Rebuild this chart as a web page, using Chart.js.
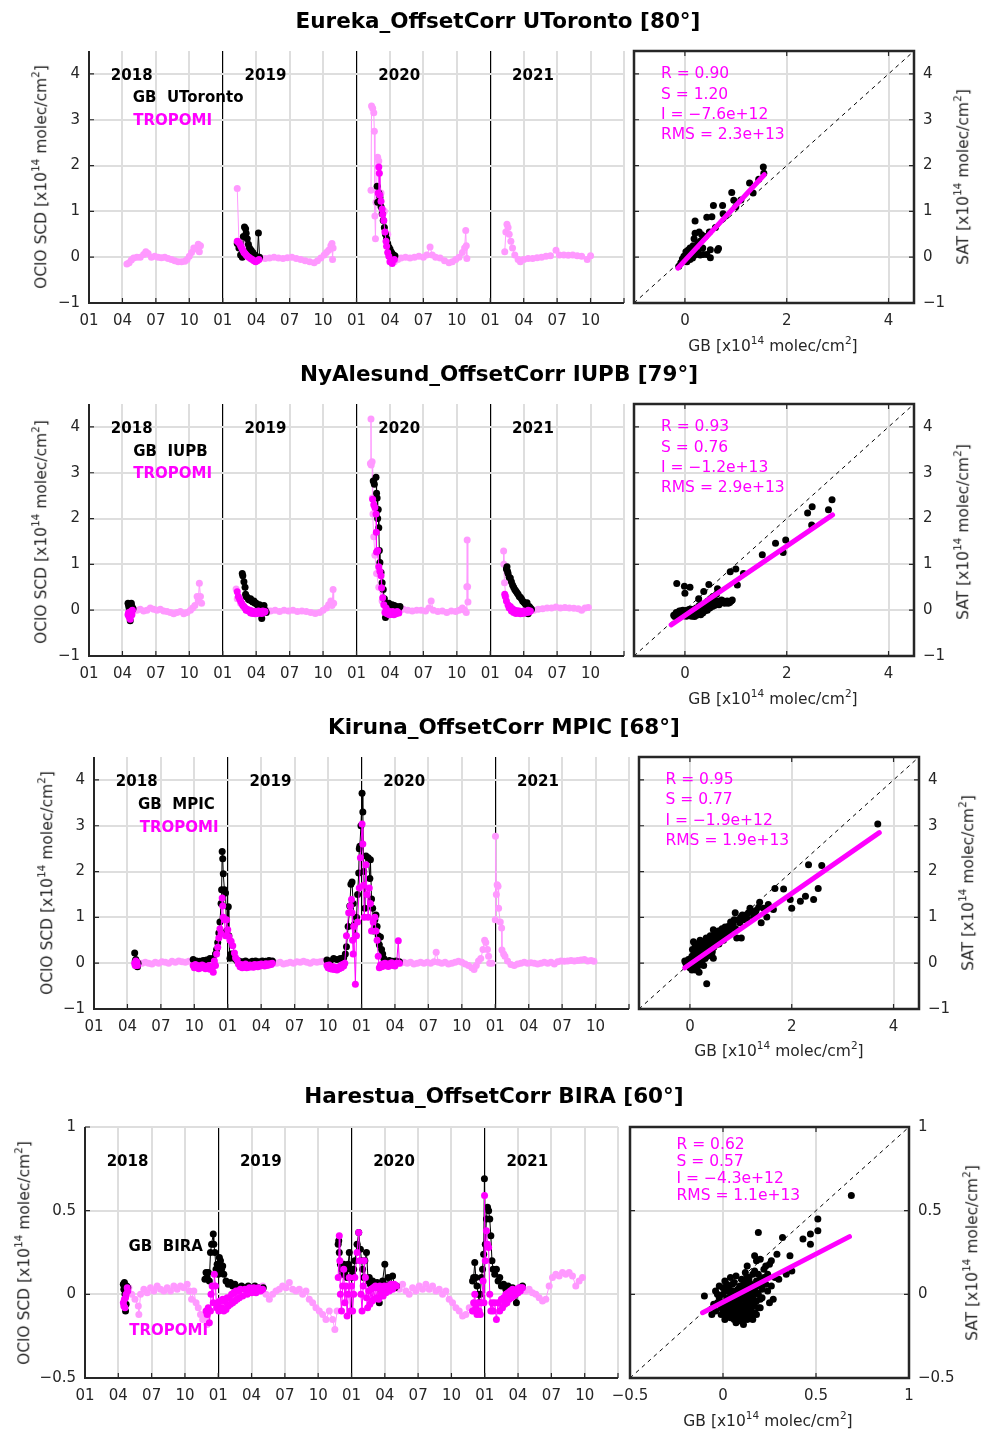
<!DOCTYPE html>
<html>
<head>
<meta charset="utf-8">
<script src="https://cdn.jsdelivr.net/npm/chart.js@4.4.1/dist/chart.umd.min.js"></script>
<style>
  body { margin: 0; background: #fff; }
  #fig { position: relative; width: 983px; height: 1432px; font-family: "DejaVu Sans", sans-serif; color: #262626; overflow: hidden; }
  #fig canvas { position: absolute; }
  .txt { position: absolute; white-space: nowrap; line-height: 1; }
  .title { font-size: 21.5px; font-weight: bold; color: #000; transform: translateX(-50%); }
  .axlab { font-size: 15.5px; }
  .rot { transform: translate(-50%, -50%) rotate(-90deg); }
  .hor { transform: translateX(-50%); }
  .axlab sup { font-size: 10.5px; vertical-align: 0; position: relative; top: -7px; }
</style>
</head>
<body>
<div id="fig"></div>
<script>
// x of the time series = months since 01/2018, y = OClO SCD in 1e14 molec/cm2
// null splits a series where the instrument has no data (polar night, end of campaign)

const monthLabels = ['01', '04', '07', '10'];
const yearLabels = ['2018', '2019', '2020', '2021'];

// ---------- Eureka ----------
const eurekaTropomiAll = [
  [3.4,-0.15],[3.6,-0.12],[3.8,-0.06],[4.0,-0.02],[4.3,0.0],[4.6,0.0],[4.9,0.06],[5.1,0.12],[5.3,0.08],[5.6,0.0],
  [5.9,0.02],[6.2,0.0],[6.5,-0.01],[6.8,0.0],[7.1,-0.03],[7.4,-0.05],[7.7,-0.08],[8.0,-0.1],[8.3,-0.1],[8.6,-0.09],
  [8.8,-0.05],[9.0,0.02],[9.2,0.1],[9.4,0.2],[9.6,0.18],[9.8,0.28],[9.9,0.12],[10.0,0.25],
  null,
  [13.3,1.5],[13.45,0.35],[13.7,0.3],[14.0,0.15],[14.4,0.05],[14.8,-0.05],[15.1,-0.05],[15.4,-0.02],[15.8,-0.03],
  [16.2,-0.02],[16.6,0.0],[17.0,-0.02],[17.4,-0.03],[17.8,-0.01],[18.2,0.0],[18.6,-0.03],[19.0,-0.05],[19.4,-0.08],
  [19.8,-0.1],[20.2,-0.12],[20.5,-0.08],[20.8,-0.02],[21.1,0.05],[21.3,0.1],[21.5,0.15],[21.7,0.25],[21.8,0.3],
  [21.85,-0.05],[21.9,0.2],
  null,
  [25.3,1.46],[25.35,3.3],[25.45,3.25],[25.55,3.15],[25.6,2.75],[25.65,0.9],[25.7,0.4],[25.75,1.2],[25.9,2.18],
  [26.0,2.1],[26.2,1.4],[26.5,1.0],[26.8,0.5],[27.1,0.1],[27.4,-0.1],[27.7,-0.05],[28.0,-0.02],[28.4,0.0],[28.8,-0.02],
  [29.2,0.0],[29.6,0.02],[30.0,0.0],[30.3,0.05],[30.6,0.22],[30.8,0.05],[31.1,0.0],[31.5,-0.02],[31.9,-0.08],
  [32.3,-0.12],[32.6,-0.1],[32.9,-0.05],[33.2,0.0],[33.5,0.1],[33.7,0.2],[33.8,0.58],[33.85,0.25],[33.9,-0.03],
  null,
  [37.3,0.12],[37.4,0.55],[37.5,0.72],[37.6,0.65],[37.7,0.5],[37.85,0.35],[38.0,0.2],[38.2,0.05],[38.5,-0.05],
  [38.7,-0.1],[39.0,-0.05],[39.4,-0.03],[39.8,-0.03],[40.2,-0.01],[40.6,0.0],[41.0,0.02],[41.4,0.03],[41.9,0.15],
  [42.2,0.05],[42.6,0.05],[43.0,0.04],[43.4,0.05],[43.8,0.03],[44.2,0.02],[44.7,-0.05],[45.0,0.03]
];
const eurekaGb = [
  [13.3,0.3],[13.45,0.2],[13.6,0.05],[13.75,0.0],[13.85,0.45],[13.95,0.66],[14.05,0.62],[14.1,0.52],[14.2,0.4],
  [14.3,0.28],[14.4,0.2],[14.55,0.15],[14.7,0.1],[14.85,0.05],[15.0,0.02],[15.1,0.0],[15.2,0.53],[15.3,0.0],
  null,
  [25.85,1.55],[25.9,1.2],[26.0,1.4],[26.1,1.3],[26.2,1.1],[26.3,0.95],[26.4,0.8],[26.5,0.65],[26.6,0.5],[26.7,0.4],
  [26.8,0.3],[26.9,0.22],[27.0,0.18],[27.1,0.12],[27.2,0.08],[27.3,0.05],[27.45,0.03]
];
const eurekaTropomiColoc = [
  [13.3,0.35],[13.4,0.33],[13.5,0.3],[13.6,0.25],[13.7,0.2],[13.8,0.15],[13.9,0.1],[14.0,0.08],[14.1,0.05],
  [14.2,0.02],[14.35,0.0],[14.5,-0.03],[14.65,-0.05],[14.8,-0.08],[14.95,-0.1],[15.1,-0.08],[15.25,-0.05],
  null,
  [25.95,1.4],[26.0,1.97],[26.05,1.83],[26.1,1.35],[26.2,1.22],[26.3,1.05],[26.35,0.93],[26.45,0.8],[26.55,0.55],
  [26.65,0.35],[26.7,0.24],[26.8,0.1],[26.9,0.02],[27.0,-0.1],[27.2,-0.14],[27.4,-0.05]
];
const eurekaScatter = [
  [-0.12,-0.2],[-0.08,-0.12],[-0.05,-0.04],[-0.02,0.02],[0.0,-0.08],[0.02,0.12],[0.04,-0.1],[0.05,0.05],[0.06,0.15],
  [0.08,0.0],[0.1,0.2],[0.1,-0.05],[0.12,0.08],[0.14,0.12],[0.15,-0.02],[0.16,0.25],[0.18,0.4],[0.2,0.05],[0.2,0.52],
  [0.22,0.15],[0.25,0.3],[0.26,0.1],[0.28,0.55],[0.3,0.35],[0.3,0.05],[0.33,0.49],[0.35,0.2],[0.36,0.06],[0.4,0.45],
  [0.43,0.06],[0.43,0.87],[0.48,0.55],[0.5,0.16],[0.5,-0.01],[0.53,0.88],[0.56,1.13],[0.6,0.65],[0.64,0.15],
  [0.66,0.19],[0.2,0.79],[0.74,1.13],[0.75,0.95],[0.8,0.9],[0.92,1.41],[0.96,1.24],[1.0,1.1],[1.1,1.25],[1.27,1.62],
  [1.34,1.4],[1.45,1.7],[1.54,1.97],[1.55,1.83]
];
const eurekaFit = [[-0.14,-0.24],[1.56,1.8]];
const eurekaStats = ['R = 0.90', 'S = 1.20', 'I = \u22127.6e+12', 'RMS = 2.3e+13'];

// ---------- Ny-Alesund ----------
const nyTropomiAll = [
  [4.0,0.0],[4.3,0.0],[4.6,0.02],[4.9,-0.02],[5.2,0.0],[5.5,0.05],[5.8,0.02],[6.1,0.0],[6.4,0.02],[6.7,-0.02],
  [7.0,-0.03],[7.3,-0.05],[7.6,-0.08],[7.9,-0.05],[8.2,-0.03],[8.5,-0.08],[8.8,-0.05],[9.1,0.0],[9.3,0.05],[9.5,0.1],
  [9.7,0.3],[9.8,0.2],[9.9,0.59],[10.0,0.3],[10.1,0.15],
  null,
  [13.2,0.46],[13.3,0.25],[13.6,0.15],[14.0,0.05],[14.5,0.0],[15.0,-0.02],[15.5,-0.02],[15.9,0.0],[16.3,-0.02],
  [16.7,0.0],[17.1,-0.03],[17.5,0.0],[17.9,-0.02],[18.3,0.0],[18.7,-0.03],[19.1,-0.02],[19.5,-0.03],[19.9,-0.05],
  [20.3,-0.07],[20.7,-0.05],[21.0,0.0],[21.3,0.05],[21.5,0.12],[21.7,0.2],[21.8,0.1],[21.9,0.45],[21.95,0.15],
  null,
  [25.25,3.2],[25.3,4.17],[25.32,3.17],[25.4,3.24],[25.42,2.45],[25.48,2.1],[25.55,1.6],[25.65,1.2],[25.8,0.8],
  [26.0,0.5],[26.3,0.2],[26.6,0.0],[27.0,-0.05],[27.4,-0.02],[27.8,0.0],[28.2,0.02],[28.6,0.0],[29.0,-0.02],
  [29.4,0.0],[29.8,0.0],[30.2,-0.02],[30.5,0.05],[30.7,0.2],[30.9,0.0],[31.3,-0.03],[31.7,-0.02],[32.1,-0.05],
  [32.5,-0.02],[32.9,-0.03],[33.2,0.0],[33.5,0.05],[33.7,0.0],[33.85,-0.05],[33.9,0.51],[33.93,1.53],[33.97,0.51],
  [34.0,0.18],
  null,
  [37.2,1.29],[37.22,1.0],[37.28,0.6],[37.4,0.3],[37.6,0.1],[38.0,0.0],[38.5,-0.03],[39.0,-0.05],[39.5,-0.03],
  [39.9,0.0],[40.3,0.02],[40.7,0.03],[41.1,0.05],[41.5,0.05],[41.9,0.07],[42.3,0.05],[42.7,0.06],[43.1,0.05],
  [43.5,0.04],[43.9,0.03],[44.2,0.0],[44.5,0.05],[44.8,0.06]
];
const nyGb = [
  [3.5,0.15],[3.55,0.1],[3.6,0.05],[3.65,-0.1],[3.7,-0.23],[3.75,0.1],[3.8,0.15],[3.85,0.08],[3.9,0.05],[3.95,0.03],
  null,
  [13.75,0.8],[13.8,0.75],[13.9,0.62],[14.0,0.5],[14.05,0.35],[14.1,0.3],[14.2,0.28],[14.3,0.24],[14.4,0.22],
  [14.5,0.25],[14.6,0.2],[14.7,0.18],[14.8,0.2],[14.9,0.15],[15.0,0.15],[15.1,0.12],[15.2,0.1],[15.3,0.12],
  [15.4,0.05],[15.5,-0.18],[15.6,0.05],[15.7,0.1],[15.8,0.0],[15.9,-0.05],
  null,
  [25.5,2.82],[25.6,2.75],[25.75,2.9],[25.8,2.55],[25.85,2.45],[25.9,2.0],[25.95,2.2],[26.0,1.8],[26.05,1.3],
  [26.1,1.04],[26.2,0.82],[26.3,0.6],[26.4,0.45],[26.5,0.25],[26.6,-0.16],[26.7,0.15],[26.8,0.1],[26.9,0.15],
  [27.0,0.08],[27.2,0.12],[27.4,0.1],[27.6,0.08],[27.8,0.05],[27.9,0.08],
  null,
  [37.45,0.9],[37.5,0.95],[37.55,0.85],[37.6,0.8],[37.7,0.72],[37.8,0.7],[37.9,0.62],[38.0,0.55],[38.1,0.5],
  [38.2,0.45],[38.3,0.42],[38.4,0.38],[38.5,0.35],[38.6,0.3],[38.7,0.28],[38.8,0.25],[38.9,0.2],[39.0,0.18],
  [39.1,0.15],[39.2,0.12],[39.3,0.16],[39.4,-0.08],[39.5,0.08],[39.6,0.05],[39.7,0.02]
];
const nyTropomiColoc = [
  [3.5,-0.1],[3.55,-0.05],[3.6,-0.15],[3.65,-0.12],[3.7,-0.2],[3.75,-0.05],[3.8,-0.02],[3.85,-0.1],[3.9,0.0],
  null,
  [13.3,0.4],[13.4,0.3],[13.5,0.25],[13.6,0.2],[13.7,0.15],[13.8,0.1],[13.9,0.08],[14.0,0.05],[14.1,0.0],
  [14.2,0.02],[14.3,-0.02],[14.4,0.0],[14.5,-0.06],[14.6,-0.02],[14.7,-0.07],[14.8,-0.03],[14.9,-0.08],[15.0,-0.04],
  [15.1,-0.07],[15.2,-0.02],[15.3,-0.06],[15.4,-0.03],[15.5,-0.07],[15.6,-0.02],[15.7,-0.05],[15.8,-0.03],
  null,
  [25.45,2.42],[25.55,2.3],[25.65,2.24],[25.75,2.1],[25.78,1.7],[25.8,1.27],[25.9,1.3],[26.0,0.95],[26.1,0.85],
  [26.2,0.75],[26.25,0.49],[26.35,0.27],[26.45,0.12],[26.55,-0.05],[26.65,0.05],[26.75,-0.08],[26.85,-0.02],
  [26.95,-0.1],[27.05,-0.04],[27.15,-0.09],[27.25,-0.03],[27.35,-0.1],[27.45,-0.05],[27.55,-0.08],[27.65,-0.03],
  [27.8,-0.06],
  null,
  [37.3,0.35],[37.35,0.3],[37.45,0.2],[37.6,0.12],[37.7,0.05],[37.8,0.08],[37.9,-0.02],[38.0,0.03],[38.1,-0.05],
  [38.2,0.0],[38.3,-0.07],[38.4,-0.01],[38.5,-0.06],[38.6,-0.02],[38.7,-0.08],[38.8,-0.03],[38.9,-0.07],[39.0,-0.02],
  [39.1,-0.06],[39.2,-0.03],[39.3,-0.05],[39.4,0.0],[39.5,-0.04],[39.6,-0.02]
];
const nyScatter = [
  [-0.22,-0.11],[-0.18,-0.08],[-0.15,-0.1],[-0.12,-0.05],[-0.1,-0.08],[-0.08,-0.02],[-0.05,-0.06],[-0.03,-0.03],
  [0.0,-0.05],[0.02,-0.1],[0.04,0.0],[0.06,-0.08],[0.08,-0.04],[0.1,-0.1],[0.12,0.02],[0.14,-0.06],[0.16,-0.12],
  [0.18,0.0],[0.2,-0.05],[0.22,0.05],[0.24,-0.08],[0.26,0.02],[0.28,0.1],[0.3,-0.04],[0.32,0.06],[0.34,0.12],
  [0.36,0.0],[0.38,0.08],[0.4,0.15],[0.42,0.05],[0.45,0.2],[0.48,0.1],[0.5,0.25],[0.52,0.12],[0.55,0.3],[0.56,0.13],
  [0.6,0.15],[0.62,0.35],[0.65,0.13],[0.7,0.18],[0.75,0.2],[0.8,0.18],[0.85,0.15],[0.91,0.2],[-0.16,0.58],
  [-0.01,0.52],[0.1,0.5],[0.0,0.37],[0.27,0.25],[0.37,0.41],[0.47,0.56],[0.64,0.47],[0.89,0.84],[1.0,0.9],
  [1.03,0.55],[1.15,0.8],[1.52,1.21],[1.78,1.46],[1.93,1.26],[1.98,1.53],[2.41,2.12],[2.5,2.26],[2.49,1.86],
  [2.82,2.19],[2.89,2.41],
  [-0.2,-0.14],[-0.17,-0.05],[-0.13,-0.12],[-0.11,-0.02],[-0.07,-0.1],[-0.04,0.0],[-0.02,-0.12],[0.01,-0.02],
  [0.03,-0.13],[0.05,-0.05],[0.07,-0.11],[0.09,0.02],[0.11,-0.07],[0.13,-0.13],[0.15,-0.02],[0.17,-0.09],
  [0.19,-0.14],[0.21,-0.03],[0.23,-0.11],[0.25,0.0],[0.27,-0.07],[0.29,0.04],[0.31,-0.1],[0.33,0.02],[0.35,-0.06],
  [0.37,0.1],[0.39,-0.02],[0.41,0.08],[0.44,0.0],[0.46,0.12],[0.49,0.05],[0.51,0.18],[0.54,0.08],[0.58,0.1],
  [0.63,0.2],[0.67,0.12],[0.72,0.22],[0.78,0.15],[0.83,0.2],[0.88,0.17],[0.93,0.22]
];
const nyFit = [[-0.27,-0.32],[2.9,2.08]];
const nyStats = ['R = 0.93', 'S = 0.76', 'I = \u22121.2e+13', 'RMS = 2.9e+13'];

// ---------- Kiruna ----------
const kirunaTropomiAll = [
  [4.0,-0.02],[4.3,0.0],[4.6,0.02],[4.9,0.0],[5.2,-0.02],[5.5,0.02],[5.8,0.0],[6.1,0.03],[6.4,0.02],[6.7,0.0],
  [7.0,0.04],[7.3,0.02],[7.6,0.05],[7.9,0.03],[8.2,0.02],[8.5,0.04],[8.8,0.05],
  null,
  [16.1,0.02],[16.4,0.0],[16.7,0.02],[17.0,-0.02],[17.3,0.0],[17.6,0.02],[17.9,0.0],[18.2,0.03],[18.5,0.02],
  [18.8,0.04],[19.1,0.02],[19.4,0.0],[19.7,0.03],[20.0,0.02],[20.3,0.03],[20.6,0.04],[20.8,0.05],
  null,
  [27.5,0.0],[27.8,0.02],[28.1,0.0],[28.4,0.02],[28.7,-0.02],[29.0,0.0],[29.3,0.02],[29.6,0.0],[29.9,0.02],
  [30.2,0.0],[30.5,0.03],[30.7,0.24],[30.9,0.02],[31.2,0.0],[31.5,0.02],[31.8,-0.02],[32.1,0.0],[32.4,0.02],
  [32.7,0.04],[33.0,0.02],[33.3,-0.02],[33.6,-0.05],[33.9,-0.1],[34.1,-0.14],[34.3,-0.05],[34.5,0.05],[34.7,0.1],
  [34.9,0.3],[35.05,0.5],[35.15,0.45],[35.3,0.3],[35.4,0.15],[35.5,0.0],[35.7,0.0],
  null,
  [36.0,0.95],[36.02,2.77],[36.1,1.5],[36.17,1.71],[36.25,1.68],[36.3,1.2],[36.45,0.9],[36.57,0.77],[36.6,0.29],
  [36.75,0.2],[36.87,0.15],[37.1,0.05],[37.4,-0.03],[37.7,-0.05],[38.0,-0.02],[38.3,0.0],[38.6,0.02],[38.9,0.0],
  [39.2,0.01],[39.5,0.0],[39.8,-0.02],[40.1,0.0],[40.4,0.02],[40.7,0.0],[41.0,0.02],[41.3,-0.02],[41.6,0.03],
  [41.9,0.05],[42.2,0.04],[42.5,0.05],[42.8,0.06],[43.1,0.05],[43.4,0.06],[43.7,0.07],[44.0,0.08],[44.3,0.05],
  [44.6,0.06],[44.85,0.04]
];
const kirunaGb = [
  [3.65,0.22],[3.7,0.05],[3.75,0.08],[3.8,-0.05],[3.85,0.02],[3.9,-0.08],[3.95,0.0],
  null,
  [8.9,0.08],[9.2,0.05],[9.5,0.04],[9.8,0.06],[10.1,0.07],[10.4,0.1],[10.7,0.1],[10.9,0.2],[11.0,0.3],[11.1,0.45],
  [11.2,0.66],[11.3,0.9],[11.4,1.3],[11.45,1.6],[11.5,2.44],[11.55,2.28],[11.6,1.95],[11.7,1.6],[11.8,1.53],
  [11.9,0.7],[12.05,1.23],[12.1,0.6],[12.2,0.11],[12.3,0.2],[12.4,0.15],[12.6,0.1],[12.8,0.06],[13.0,0.05],
  [13.3,0.03],[13.6,0.05],[13.9,0.02],[14.2,0.04],[14.5,0.05],[14.8,0.03],[15.1,0.05],[15.4,0.04],[15.7,0.06],
  [16.0,0.05],
  null,
  [20.9,0.07],[21.2,0.05],[21.5,0.1],[21.8,0.08],[22.1,0.1],[22.4,0.12],[22.55,0.2],[22.65,0.36],[22.8,0.8],
  [22.95,1.25],[23.05,1.72],[23.15,1.77],[23.25,1.3],[23.35,0.84],[23.45,0.6],[23.55,1.0],[23.65,1.5],[23.75,1.97],
  [23.8,2.5],[23.85,2.55],[23.95,3.0],[24.05,3.71],[24.12,3.3],[24.2,2.0],[24.3,1.2],[24.4,2.34],[24.6,2.3],
  [24.75,1.85],[24.8,2.26],[24.9,1.4],[25.0,1.2],[25.1,0.7],[25.2,0.95],[25.3,1.05],[25.4,0.8],[25.5,0.6],
  [25.6,0.4],[25.7,0.57],[25.8,0.3],[25.9,0.2],[26.0,0.1],[26.2,0.05],[26.5,0.06],[26.8,0.04],[27.1,0.05],[27.4,0.03]
];
const kirunaTropomiColoc = [
  [3.65,0.0],[3.7,-0.05],[3.75,0.05],[3.8,-0.03],[3.85,0.02],[3.9,-0.05],
  null,
  [8.9,-0.05],[9.0,-0.1],[9.1,-0.03],[9.2,-0.08],[9.3,-0.05],[9.4,-0.12],[9.5,-0.06],[9.6,-0.1],[9.7,-0.04],
  [9.8,-0.09],[9.9,-0.06],[10.0,-0.12],[10.1,-0.07],[10.2,-0.1],[10.3,-0.05],[10.4,-0.13],[10.5,-0.08],[10.6,-0.12],
  [10.7,-0.2],[10.8,0.05],[10.9,-0.05],[11.0,0.2],[11.1,0.35],[11.2,0.55],[11.3,0.75],[11.4,0.65],[11.5,1.42],
  [11.55,1.25],[11.6,1.0],[11.7,0.95],[11.8,0.6],[11.9,0.95],[12.0,0.73],[12.1,0.58],[12.2,0.5],[12.3,0.48],
  [12.45,0.38],[12.6,0.22],[12.7,0.12],[12.85,0.07],[12.95,-0.02],[13.1,-0.08],[13.2,-0.03],[13.3,-0.1],[13.4,-0.05],
  [13.5,-0.08],[13.6,-0.02],[13.7,-0.1],[13.8,-0.06],[13.9,-0.09],[14.0,-0.04],[14.1,-0.08],[14.2,-0.05],
  [14.3,-0.09],[14.4,-0.03],[14.5,-0.07],[14.6,-0.04],[14.7,-0.08],[14.8,-0.03],[14.9,-0.06],[15.0,-0.02],
  [15.1,-0.05],[15.2,-0.03],[15.3,-0.06],[15.4,-0.01],[15.5,-0.05],[15.6,-0.02],[15.7,-0.04],[15.8,-0.01],
  [15.9,-0.03],[16.0,0.0],
  null,
  [20.9,-0.05],[21.0,-0.1],[21.1,-0.04],[21.2,-0.12],[21.3,-0.07],[21.4,-0.13],[21.5,-0.08],[21.6,-0.14],[21.7,-0.1],
  [21.8,-0.15],[21.9,-0.09],[22.0,-0.12],[22.1,-0.06],[22.2,-0.1],[22.3,-0.03],[22.4,-0.06],[22.5,0.0],
  [22.65,0.6],[22.85,1.1],[23.0,1.25],[23.1,1.39],[23.15,1.1],[23.2,0.5],[23.25,0.2],[23.3,0.8],[23.45,-0.46],
  [23.55,0.6],[23.65,0.9],[23.8,1.64],[23.9,2.3],[24.05,3.04],[24.12,2.6],[24.18,1.7],[24.25,1.0],[24.4,2.15],
  [24.5,1.5],[24.6,1.0],[24.7,1.64],[24.8,1.3],[24.9,0.7],[25.05,0.9],[25.2,1.0],[25.3,0.7],[25.4,0.5],[25.5,0.15],
  [25.6,-0.1],[25.7,-0.04],[25.8,-0.08],[25.9,-0.02],[26.0,-0.06],[26.1,0.0],[26.2,-0.05],[26.3,-0.02],[26.4,-0.07],
  [26.5,-0.01],[26.6,-0.04],[26.7,0.01],[26.8,-0.05],[26.9,-0.02],[27.0,-0.06],[27.15,0.0],[27.3,0.49],[27.4,0.0]
];
const kirunaScatter = [
  [-0.1,0.05],[-0.08,0.0],[-0.05,-0.05],[-0.03,0.08],[0.0,-0.1],[0.02,0.1],[0.04,-0.15],[0.05,0.3],[0.06,0.0],
  [0.07,0.47],[0.08,-0.1],[0.1,0.2],[0.1,0.4],[0.12,-0.05],[0.13,-0.07],[0.14,0.25],[0.15,0.1],[0.16,0.35],
  [0.18,-0.2],[0.2,0.5],[0.2,0.05],[0.22,0.3],[0.24,0.15],[0.25,0.4],[0.27,-0.05],[0.28,0.2],[0.3,0.45],[0.3,0.1],
  [0.33,-0.45],[0.33,0.3],[0.35,0.5],[0.36,0.2],[0.38,0.35],[0.4,0.6],[0.42,0.4],[0.44,0.25],[0.46,0.73],
  [0.46,0.11],[0.48,0.5],[0.5,0.45],[0.52,0.65],[0.55,0.55],[0.58,0.6],[0.6,0.7],[0.62,0.5],[0.65,0.65],
  [0.69,0.79],[0.7,0.6],[0.75,0.8],[0.78,0.72],[0.8,0.9],[0.85,0.85],[0.89,1.1],[0.92,0.55],[0.95,0.95],[1.0,1.0],
  [1.01,0.55],[1.05,0.95],[1.1,1.05],[1.15,1.1],[1.21,1.13],[1.25,1.0],[1.3,1.15],[1.37,1.33],[1.4,0.88],
  [1.45,1.2],[1.51,1.01],[1.54,1.28],[1.64,1.17],[1.67,1.63],[1.84,1.62],[1.97,1.39],[2.0,1.2],[2.17,1.35],
  [2.27,1.46],[2.33,2.15],[2.43,1.39],[2.52,1.63],[2.59,2.13],[3.69,3.04],
  [0.0,0.08],[0.02,-0.05],[0.04,0.15],[0.06,-0.12],[0.08,0.25],[0.09,0.05],[0.11,-0.15],[0.12,0.12],[0.14,0.42],
  [0.15,-0.08],[0.17,0.2],[0.19,0.1],[0.21,0.38],[0.23,0.02],[0.25,0.25],[0.26,0.48],[0.28,0.12],[0.31,0.3],
  [0.32,0.55],[0.34,0.15],[0.37,0.42],[0.39,0.28],[0.41,0.5],[0.43,0.18],[0.45,0.6],[0.47,0.35],[0.49,0.62],
  [0.51,0.4],[0.53,0.55],[0.56,0.7],[0.57,0.42],[0.6,0.55],[0.63,0.75],[0.66,0.5],[0.68,0.68],[0.72,0.75],
  [0.76,0.62],[0.82,0.8],[0.87,0.95],[0.9,0.75],[0.98,0.88],[1.03,1.05],[1.12,0.98],[1.18,1.2],[1.28,1.1],[1.35,1.22]
];
const kirunaFit = [[-0.1,-0.1],[3.72,2.85]];
const kirunaStats = ['R = 0.95', 'S = 0.77', 'I = \u22121.9e+12', 'RMS = 1.9e+13'];

// ---------- Harestua ----------
const harestuaTropomiAll = [
  [3.95,0.04],[4.2,0.0],[4.5,-0.03],[4.8,-0.07],[4.85,-0.12],[5.0,0.0],[5.3,0.03],[5.6,0.01],[5.9,0.04],[6.2,0.02],
  [6.5,0.05],[6.8,0.03],[7.1,0.02],[7.4,0.04],[7.7,0.02],[8.0,0.05],[8.3,0.03],[8.6,0.05],[8.9,0.04],[9.2,0.06],
  [9.4,0.02],[9.6,-0.03],[9.8,0.02],[10.0,-0.05],[10.2,-0.08],[10.4,-0.12],[10.6,-0.15],[10.8,-0.14],[11.0,-0.18],
  null,
  [16.0,0.05],[16.3,0.0],[16.6,-0.03],[16.9,0.0],[17.2,0.02],[17.5,0.03],[17.8,0.05],[18.1,0.04],[18.4,0.07],
  [18.7,0.03],[19.0,0.02],[19.3,0.03],[19.6,0.0],[19.9,0.02],[20.2,-0.03],[20.5,-0.05],[20.8,-0.08],[21.1,-0.1],
  [21.4,-0.12],[21.7,-0.15],[22.0,-0.1],[22.3,-0.15],[22.5,-0.21],[22.7,-0.1],
  null,
  [28.0,0.05],[28.3,0.03],[28.6,0.06],[28.9,0.02],[29.2,0.0],[29.5,0.04],[29.8,0.02],[30.1,0.05],[30.4,0.03],
  [30.7,0.06],[31.0,0.03],[31.3,0.05],[31.6,0.02],[31.9,0.03],[32.2,0.0],[32.5,0.02],[32.8,-0.03],[33.1,-0.05],
  [33.4,-0.08],[33.7,-0.1],[34.0,-0.13],[34.3,-0.12],[34.6,-0.08],[34.9,-0.1],
  null,
  [39.4,0.04],[39.7,0.02],[40.0,0.03],[40.3,0.01],[40.6,0.0],[40.9,-0.02],[41.2,-0.04],[41.5,-0.03],[41.8,0.05],
  [42.1,0.1],[42.4,0.12],[42.7,0.11],[43.0,0.13],[43.3,0.12],[43.6,0.13],[43.9,0.11],[44.2,0.05],[44.5,0.08],[44.8,0.1]
];
const harestuaGb = [
  [3.45,0.06],[3.5,0.03],[3.55,0.07],[3.6,0.0],[3.65,-0.1],[3.7,-0.06],[3.75,0.05],[3.8,0.02],[3.85,0.04],
  null,
  [10.8,0.09],[10.9,0.13],[11.0,0.1],[11.1,0.13],[11.2,0.08],[11.3,0.25],[11.4,0.3],[11.55,0.36],[11.6,0.3],
  [11.7,0.25],[11.8,0.15],[11.9,0.18],[12.0,0.12],[12.1,0.22],[12.2,0.2],[12.3,0.15],[12.4,0.17],[12.5,0.12],
  [12.7,0.08],[12.9,0.06],[13.1,0.07],[13.3,0.05],[13.5,0.06],[13.8,0.04],[14.1,0.05],[14.4,0.04],[14.7,0.05],
  [15.0,0.03],[15.3,0.05],[15.6,0.04],[15.9,0.03],[16.05,0.04],
  null,
  [22.8,0.3],[22.85,0.32],[22.9,0.25],[23.0,0.18],[23.1,0.15],[23.2,0.12],[23.3,0.18],[23.4,0.12],[23.5,0.15],
  [23.6,0.1],[23.7,0.18],[23.8,0.25],[23.9,0.15],[24.0,0.1],[24.1,0.12],[24.2,0.15],[24.3,0.2],[24.5,0.3],
  [24.65,0.37],[24.8,0.27],[24.9,0.2],[25.0,0.15],[25.1,0.1],[25.2,0.2],[25.35,0.25],[25.5,0.08],[25.6,0.1],
  [25.7,0.06],[25.9,0.08],[26.1,0.05],[26.3,0.07],[26.5,-0.05],[26.6,0.06],[26.8,0.08],[27.0,0.18],[27.1,0.05],
  [27.3,0.1],[27.5,0.06],[27.7,0.11],[27.9,0.04],[28.05,0.05],
  null,
  [34.9,0.08],[35.0,0.1],[35.1,0.19],[35.2,0.1],[35.3,0.05],[35.4,0.0],[35.5,-0.05],[35.6,0.0],[35.7,0.1],
  [35.8,0.15],[35.9,0.24],[35.97,0.69],[36.05,0.3],[36.15,0.45],[36.25,0.52],[36.35,0.5],[36.45,0.45],[36.55,0.35],
  [36.65,0.2],[36.75,0.15],[36.9,0.12],[37.05,0.15],[37.2,0.08],[37.35,0.1],[37.5,0.05],[37.7,0.06],[37.9,0.03],
  [38.1,0.05],[38.3,0.02],[38.5,0.04],[38.7,0.0],[38.85,-0.05],[39.0,0.03],[39.2,0.04],[39.4,0.05]
];
const harestuaTropomiColoc = [
  [3.45,-0.05],[3.5,-0.07],[3.55,-0.03],[3.6,-0.08],[3.65,-0.02],[3.7,0.0],[3.8,0.04],[3.85,0.02],
  null,
  [10.9,-0.1],[11.0,-0.12],[11.1,-0.08],[11.2,-0.17],[11.3,-0.1],[11.35,0.0],[11.45,0.05],[11.55,-0.05],
  [11.65,0.12],[11.75,0.05],[11.85,-0.08],[11.95,-0.05],[12.05,-0.1],[12.15,-0.04],[12.3,-0.08],[12.4,-0.03],
  [12.5,-0.1],[12.6,-0.04],[12.7,-0.09],[12.8,-0.02],[12.9,-0.07],[13.0,-0.02],[13.1,-0.06],[13.2,0.0],[13.3,-0.05],
  [13.4,0.01],[13.5,-0.04],[13.6,0.02],[13.7,-0.03],[13.8,0.02],[13.9,-0.02],[14.0,0.03],[14.2,-0.01],[14.4,0.03],
  [14.6,0.0],[14.8,0.04],[15.0,0.01],[15.2,0.04],[15.4,0.01],[15.6,0.04],[15.8,0.02],[16.0,0.03],
  null,
  [22.8,0.1],[22.9,0.35],[22.95,0.2],[23.0,0.0],[23.1,-0.1],[23.2,0.05],[23.3,0.15],[23.4,-0.05],[23.5,0.05],
  [23.6,-0.13],[23.7,0.0],[23.8,0.1],[23.9,-0.1],[24.0,0.05],[24.1,-0.1],[24.2,0.0],[24.3,0.1],[24.5,0.25],
  [24.65,0.37],[24.75,0.2],[24.85,0.0],[24.95,-0.1],[25.05,0.05],[25.15,0.2],[25.25,0.1],[25.35,-0.02],
  [25.45,-0.08],[25.55,0.02],[25.65,-0.06],[25.75,0.03],[25.85,-0.04],[25.95,0.04],[26.05,-0.03],[26.15,0.05],
  [26.25,-0.02],[26.35,0.04],[26.45,-0.03],[26.55,0.05],[26.65,0.0],[26.75,0.04],[26.85,-0.01],[26.95,0.05],
  [27.1,0.01],[27.25,0.05],[27.4,0.02],[27.55,0.06],[27.7,0.03],[27.85,0.06],[28.05,0.05],
  null,
  [34.9,-0.1],[35.0,-0.05],[35.1,0.0],[35.2,-0.08],[35.3,-0.12],[35.4,-0.05],[35.5,-0.1],[35.6,-0.12],[35.7,-0.05],
  [35.85,0.08],[35.93,-0.05],[35.98,0.59],[36.05,0.2],[36.15,0.38],[36.25,0.3],[36.35,0.28],[36.45,0.0],
  [36.55,-0.1],[36.65,-0.05],[36.75,-0.1],[36.9,-0.05],[37.05,-0.15],[37.2,-0.05],[37.35,-0.1],[37.5,-0.03],
  [37.6,-0.08],[37.7,-0.02],[37.8,-0.06],[37.9,0.0],[38.0,-0.05],[38.1,0.01],[38.2,-0.03],[38.3,0.02],[38.4,-0.02],
  [38.5,0.03],[38.6,-0.01],[38.7,0.02],[38.8,0.0],[38.9,0.03],[39.0,0.01],[39.1,0.04],[39.2,0.02],[39.3,0.04],
  [39.4,0.04]
];
const harestuaScatter = [
  [-0.1,-0.01],[-0.06,-0.12],[-0.04,0.02],[-0.03,-0.05],[-0.02,0.05],[-0.01,-0.08],[0.0,0.0],[0.0,-0.1],[0.01,0.08],
  [0.02,-0.03],[0.02,-0.13],[0.03,0.04],[0.03,-0.07],[0.04,0.1],[0.04,-0.01],[0.05,-0.11],[0.05,0.06],[0.06,-0.04],
  [0.06,-0.15],[0.07,0.02],[0.07,-0.08],[0.07,0.11],[0.08,-0.02],[0.08,-0.12],[0.09,0.05],[0.09,-0.06],[0.1,0.0],
  [0.1,-0.16],[0.1,0.09],[0.11,-0.09],[0.11,-0.03],[0.12,0.04],[0.12,-0.13],[0.13,-0.06],[0.13,0.1],[0.14,0.01],
  [0.14,-0.1],[0.15,-0.14],[0.15,0.06],[0.16,-0.02],[0.16,-0.07],[0.17,0.03],[0.17,-0.11],[0.18,0.08],[0.18,-0.04],
  [0.19,0.0],[0.2,-0.08],[0.2,0.05],[0.21,-0.02],[0.22,0.1],[0.07,-0.17],[0.11,-0.18],[0.15,-0.14],[0.04,-0.05],
  [0.06,0.0],[0.08,0.03],[0.02,0.02],[0.12,-0.01],[0.14,0.04],[0.05,-0.08],[-0.03,0.0],[0.09,-0.1],[0.24,0.02],
  [0.25,-0.05],[0.27,-0.03],[0.12,0.13],[0.17,0.14],[0.19,0.12],[0.13,0.17],[0.17,0.23],[0.19,0.37],[0.25,0.18],
  [0.26,0.2],[0.29,0.24],[0.3,0.09],[0.32,0.34],[0.34,0.12],[0.36,0.23],[0.37,0.14],[0.43,0.33],[0.47,0.3],
  [0.47,0.36],[0.51,0.38],[0.51,0.45],[0.69,0.59],[0.2,0.21],[0.22,0.15],[0.14,0.08],[0.18,0.2],[0.23,0.17],
  [-0.05,-0.06],[-0.04,-0.1],[-0.02,-0.02],[-0.01,-0.12],[0.0,0.04],[0.01,-0.06],[0.01,-0.15],[0.02,0.06],
  [0.03,-0.1],[0.03,-0.02],[0.04,-0.14],[0.05,0.02],[0.05,-0.03],[0.06,-0.09],[0.06,0.07],[0.07,-0.12],
  [0.07,-0.04],[0.08,0.0],[0.08,-0.16],[0.09,-0.03],[0.09,-0.13],[0.1,0.04],[0.1,-0.07],[0.11,0.01],[0.11,-0.12],
  [0.12,-0.08],[0.12,0.07],[0.13,-0.02],[0.13,-0.15],[0.14,-0.05],[0.15,0.0],[0.15,-0.09],[0.16,0.03],[0.16,-0.12],
  [0.17,-0.05],[0.18,0.01],[0.19,-0.08],[0.19,0.06],[0.2,-0.03],[0.21,0.03],[0.08,-0.08],[0.05,-0.13],[0.1,-0.1],
  [0.13,-0.11],[0.04,-0.08],[0.06,-0.06],[0.09,0.02],[0.12,-0.04],[0.02,-0.08],[0.0,-0.05],[0.16,-0.15],[0.18,-0.12],
  [0.11,0.06],[0.14,0.1],[0.23,0.06],[0.2,0.09],[0.26,0.05],[0.28,0.1],[0.24,0.12],[0.16,0.12]
];
const harestuaFit = [[-0.11,-0.11],[0.68,0.345]];
const harestuaStats = ['R = 0.62', 'S = 0.57', 'I = \u22124.3e+12', 'RMS = 1.1e+13'];

// ---------- figure layout (pixels / text anchors) ----------
const PINK = '#ff99ff', MAG = '#ff00ff', AXIS = '#262626', GRID = '#dedede';
const FONT = '"DejaVu Sans", sans-serif';
const TS_PAD = { l: 80, r: 10, t: 20, b: 45 };
const SC_PAD = { l: 30, r: 60, t: 20, b: 45 };
const MARKER = 3.5;

const panels = [
  { title: 'Eureka_OffsetCorr UToronto [80\u00b0]', gbName: 'GB  UToronto',
    sat: eurekaTropomiAll, gb: eurekaGb, co: eurekaTropomiColoc, scat: eurekaScatter, fit: eurekaFit, stats: eurekaStats,
    range: [-1, 4.5], yStep: 1, xStep: 2,
    ts: { l: 89, t: 51, r: 624, b: 303 }, sc: { l: 634, t: 51, r: 914, b: 303 },
    titlePos: [498, 28], yLab: [42, 177], yrLab: [964, 177], xLab: [773, 352],
    yearY: 3.86, gbPos: [3.92, 3.39], satPos: [3.97, 2.88], statX: -0.47, statY: [3.92, 3.46, 3.01, 2.57] },
  { title: 'NyAlesund_OffsetCorr IUPB [79\u00b0]', gbName: 'GB  IUPB',
    sat: nyTropomiAll, gb: nyGb, co: nyTropomiColoc, scat: nyScatter, fit: nyFit, stats: nyStats,
    range: [-1, 4.5], yStep: 1, xStep: 2,
    ts: { l: 89, t: 404, r: 624, b: 656 }, sc: { l: 634, t: 404, r: 914, b: 656 },
    titlePos: [499, 381], yLab: [42, 532], yrLab: [964, 532], xLab: [773, 705],
    yearY: 3.86, gbPos: [3.97, 3.37], satPos: [3.97, 2.88], statX: -0.47, statY: [3.91, 3.46, 3.02, 2.57] },
  { title: 'Kiruna_OffsetCorr MPIC [68\u00b0]', gbName: 'GB  MPIC',
    sat: kirunaTropomiAll, gb: kirunaGb, co: kirunaTropomiColoc, scat: kirunaScatter, fit: kirunaFit, stats: kirunaStats,
    range: [-1, 4.5], yStep: 1, xStep: 2,
    ts: { l: 94, t: 757, r: 629, b: 1009 }, sc: { l: 639, t: 757, r: 919, b: 1009 },
    titlePos: [504, 734], yLab: [48, 883], yrLab: [969, 883], xLab: [779, 1057],
    yearY: 3.87, gbPos: [3.95, 3.37], satPos: [4.1, 2.87], statX: -0.48, statY: [3.92, 3.47, 3.02, 2.57] },
  { title: 'Harestua_OffsetCorr BIRA [60\u00b0]', gbName: 'GB  BIRA',
    sat: harestuaTropomiAll, gb: harestuaGb, co: harestuaTropomiColoc, scat: harestuaScatter, fit: harestuaFit, stats: harestuaStats,
    range: [-0.5, 1], yStep: 0.5, xStep: 0.5,
    ts: { l: 85, t: 1127, r: 618, b: 1378 }, sc: { l: 630, t: 1127, r: 909, b: 1378 },
    titlePos: [494, 1103], yLab: [25, 1253], yrLab: [973, 1253], xLab: [768, 1427],
    yearY: 0.766, gbPos: [3.92, 0.26], satPos: [3.98, -0.244], statX: -0.25, statY: [0.866, 0.766, 0.666, 0.566] }
];

const fig = document.getElementById('fig');
const unitLabel = '[x10<sup>14</sup> molec/cm<sup>2</sup>]';

function fmt(v) {
  const s = String(Math.round(Math.abs(v) * 100) / 100);
  return v < 0 ? '\u2212' + s : s;
}

function toPoints(arr) {
  return arr.map(p => p ? { x: p[0], y: p[1] } : { x: null, y: null });
}

function addText(html, cls, x, y, size) {
  const d = document.createElement('div');
  d.className = 'txt ' + cls;
  d.innerHTML = html;
  d.style.left = x + 'px';
  d.style.top = (size ? y - 0.846 * size : y) + 'px';
  fig.appendChild(d);
}

function addCanvas(box, pad) {
  const c = document.createElement('canvas');
  const w = box.r - box.l + pad.l + pad.r, h = box.b - box.t + pad.t + pad.b;
  c.width = w; c.height = h;
  c.style.width = w + 'px'; c.style.height = h + 'px';
  c.style.left = (box.l - pad.l) + 'px';
  c.style.top = (box.t - pad.t) + 'px';
  fig.appendChild(c);
  return c;
}

// axes frame, inward tick marks and in-axes texts (MATLAB look)
const decor = {
  id: 'decor',
  afterDraw(chart, args, o) {
    const { ctx, chartArea: a, scales } = chart;
    ctx.save();
    ctx.strokeStyle = AXIS;
    ctx.lineWidth = o.frameWidth;
    ctx.beginPath();
    if (o.box) {
      ctx.rect(a.left, a.top, a.right - a.left, a.bottom - a.top);
    } else {
      ctx.moveTo(a.left, a.top);
      ctx.lineTo(a.left, a.bottom);
      ctx.lineTo(a.right, a.bottom);
    }
    ctx.stroke();
    ctx.lineWidth = 1.2;
    ctx.beginPath();
    scales.x.ticks.forEach(t => {
      const px = scales.x.getPixelForValue(t.value);
      ctx.moveTo(px, a.bottom); ctx.lineTo(px, a.bottom - 5);
      if (o.box) { ctx.moveTo(px, a.top); ctx.lineTo(px, a.top + 5); }
    });
    scales.y.ticks.forEach(t => {
      const py = scales.y.getPixelForValue(t.value);
      ctx.moveTo(a.left, py); ctx.lineTo(a.left + 5, py);
      if (o.box) { ctx.moveTo(a.right, py); ctx.lineTo(a.right - 5, py); }
    });
    ctx.stroke();
    (o.texts || []).forEach(t => {
      ctx.font = (t.bold ? 'bold ' : '') + t.size + 'px ' + FONT;
      ctx.fillStyle = t.color;
      ctx.textAlign = t.align || 'left';
      ctx.textBaseline = 'alphabetic';
      ctx.fillText(t.text, scales.x.getPixelForValue(t.x), scales.y.getPixelForValue(t.y));
    });
    ctx.restore();
  }
};

function series(arr, color) {
  return {
    data: toPoints(arr), showLine: true, borderColor: color, backgroundColor: color,
    borderWidth: 1, pointRadius: MARKER, pointBorderWidth: 0, pointBackgroundColor: color
  };
}

const tickFont = { size: 15, family: FONT };

function timeSeriesChart(p) {
  const isYearLine = v => v === 12 || v === 24 || v === 36;
  const texts = yearLabels.map((y, i) => ({ text: y, x: 3.83 + 12 * i, y: p.yearY, color: '#000', bold: true, size: 15, align: 'center' }));
  texts.push({ text: p.gbName, x: p.gbPos[0], y: p.gbPos[1], color: '#000', bold: true, size: 15 });
  texts.push({ text: 'TROPOMI', x: p.satPos[0], y: p.satPos[1], color: MAG, bold: true, size: 15 });
  new Chart(addCanvas(p.ts, TS_PAD), {
    type: 'scatter',
    data: { datasets: [series(p.co, MAG), series(p.gb, '#000'), series(p.sat, PINK)] },
    options: {
      animation: false, responsive: false, events: [],
      layout: { padding: { top: TS_PAD.t, right: TS_PAD.r, left: 0, bottom: 0 } },
      plugins: { legend: { display: false }, tooltip: { enabled: false },
                 decor: { box: false, frameWidth: 2, texts: texts } },
      scales: {
        x: {
          type: 'linear', min: 0, max: 48,
          border: { display: false },
          grid: {
            drawTicks: false,
            color: c => isYearLine(c.tick.value) ? '#000' : (c.tick.value === 0 ? 'rgba(0,0,0,0)' : GRID),
            lineWidth: c => isYearLine(c.tick.value) ? 1.2 : 2
          },
          ticks: { stepSize: 3, autoSkip: false, maxRotation: 0, padding: 9, color: AXIS, font: tickFont,
                   callback: v => v >= 48 ? '' : monthLabels[(v % 12) / 3] },
          afterFit: s => { s.height = TS_PAD.b; }
        },
        y: {
          type: 'linear', min: p.range[0], max: p.range[1],
          border: { display: false },
          grid: { drawTicks: false, color: GRID, lineWidth: 2 },
          ticks: { stepSize: p.yStep, includeBounds: false, padding: 9, color: AXIS, font: tickFont, callback: v => fmt(v) },
          afterFit: s => { s.width = TS_PAD.l; }
        }
      }
    },
    plugins: [decor]
  });
}

function scatterChart(p) {
  const lo = p.range[0], hi = p.range[1];
  const texts = p.stats.map((s, i) => ({ text: s, x: p.statX, y: p.statY[i], color: MAG, bold: false, size: 15.5 }));
  new Chart(addCanvas(p.sc, SC_PAD), {
    type: 'scatter',
    data: { datasets: [
      { data: toPoints(p.fit), showLine: true, borderColor: MAG, borderWidth: 5, pointRadius: 0, borderCapStyle: 'round' },
      { data: toPoints(p.scat), pointRadius: MARKER, pointBorderWidth: 0, pointBackgroundColor: '#000', backgroundColor: '#000' },
      { data: [{ x: lo, y: lo }, { x: hi, y: hi }], showLine: true, borderColor: '#000', borderWidth: 1,
        borderDash: [4, 4], pointRadius: 0 }
    ] },
    options: {
      animation: false, responsive: false, events: [],
      layout: { padding: { top: SC_PAD.t, left: SC_PAD.l, right: 0, bottom: 0 } },
      plugins: { legend: { display: false }, tooltip: { enabled: false },
                 decor: { box: true, frameWidth: 2.5, texts: texts } },
      scales: {
        x: {
          type: 'linear', min: lo, max: hi,
          border: { display: false },
          grid: { drawTicks: false, color: GRID, lineWidth: 2 },
          ticks: { stepSize: p.xStep, includeBounds: false, autoSkip: false, maxRotation: 0, padding: 9, color: AXIS,
                   font: tickFont, callback: v => fmt(v) },
          afterFit: s => { s.height = SC_PAD.b; }
        },
        y: {
          type: 'linear', position: 'right', min: lo, max: hi,
          border: { display: false },
          grid: { drawTicks: false, color: GRID, lineWidth: 2 },
          ticks: { stepSize: p.yStep, includeBounds: false, padding: 9, color: AXIS, font: tickFont, callback: v => fmt(v) },
          afterFit: s => { s.width = SC_PAD.r; }
        }
      }
    },
    plugins: [decor]
  });
}

panels.forEach(p => {
  timeSeriesChart(p);
  scatterChart(p);
  addText(p.title, 'title', p.titlePos[0], p.titlePos[1], 21.5);
  addText('OClO SCD ' + unitLabel, 'axlab rot', p.yLab[0], p.yLab[1]);
  addText('SAT ' + unitLabel, 'axlab rot', p.yrLab[0], p.yrLab[1]);
  addText('GB ' + unitLabel, 'axlab hor', p.xLab[0], p.xLab[1], 15.5);
});
</script>
</body>
</html>
